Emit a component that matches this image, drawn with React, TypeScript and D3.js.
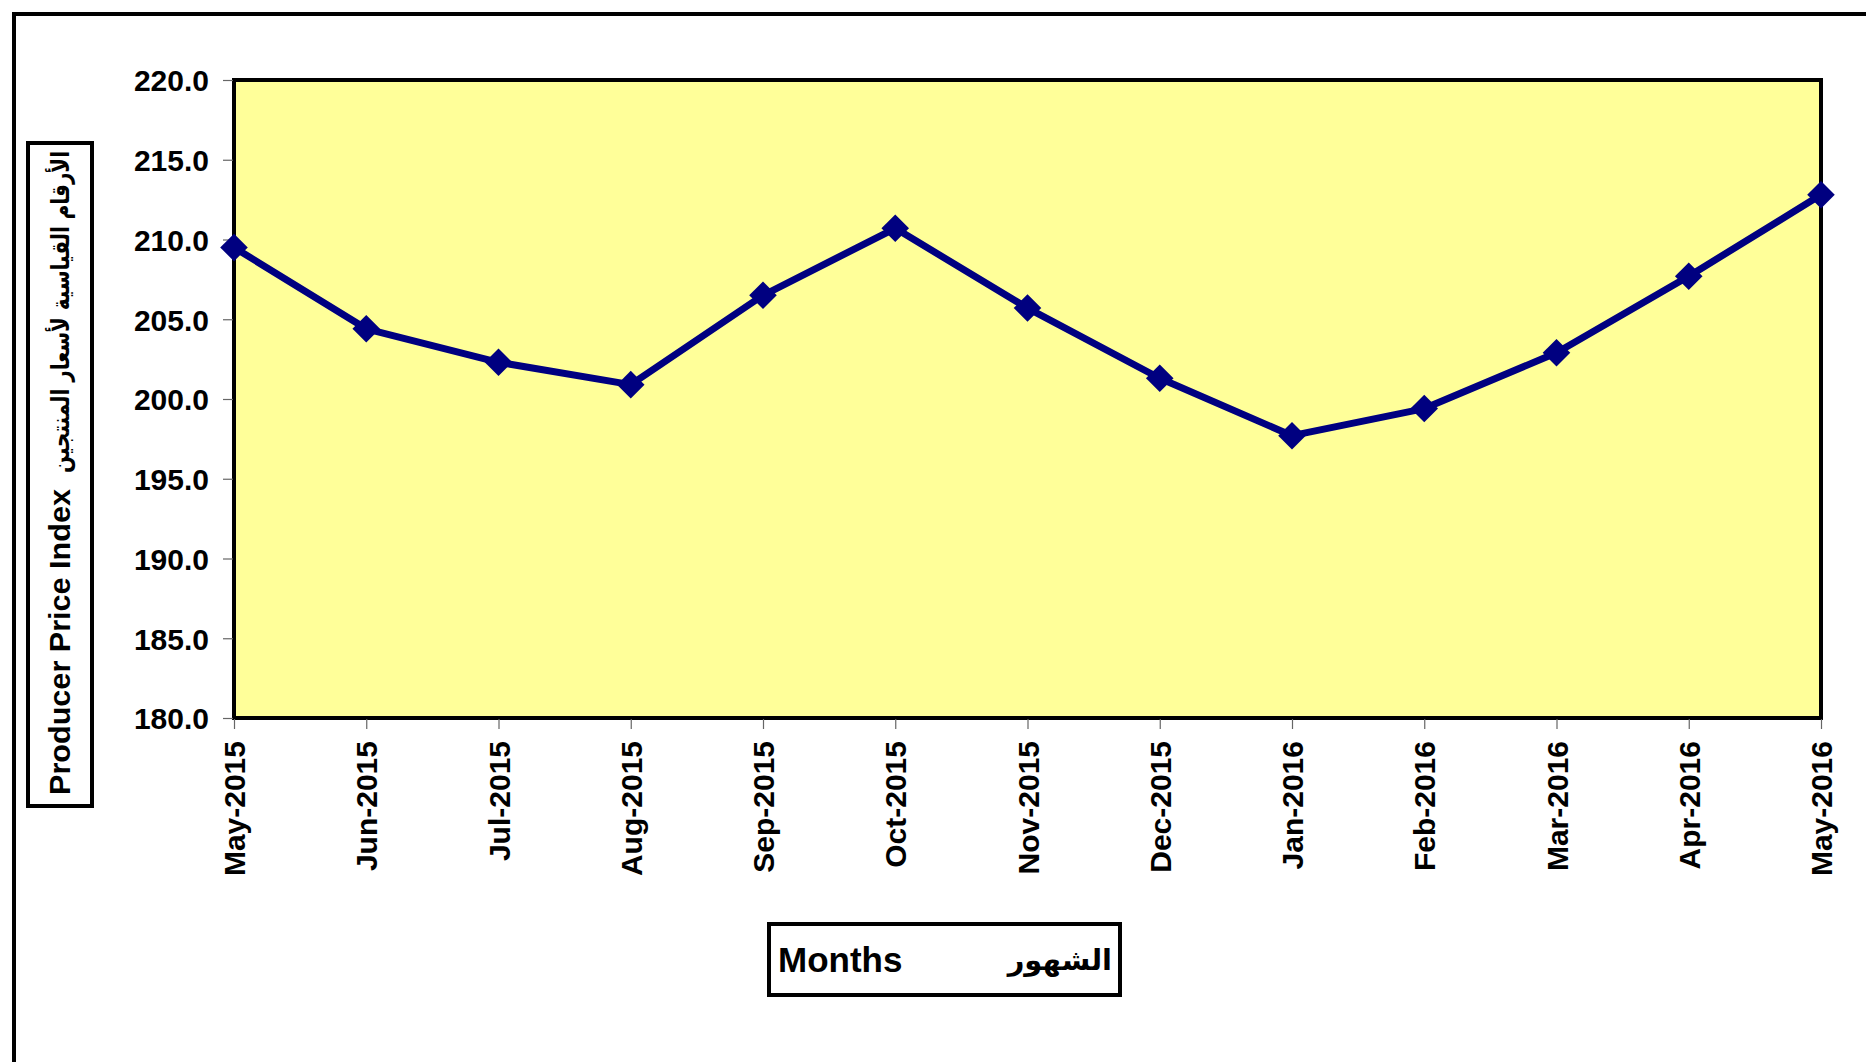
import React, { useEffect, useRef } from 'react'
import * as d3 from 'd3'

// الأشهر والقيم
const months = [
    'May-2015', 'Jun-2015', 'Jul-2015', 'Aug-2015', 'Sep-2015', 'Oct-2015', 'Nov-2015',
    'Dec-2015', 'Jan-2016', 'Feb-2016', 'Mar-2016', 'Apr-2016', 'May-2016'
]
const ppi = [209.5, 204.4, 202.3, 200.9, 206.5, 210.7, 205.7, 201.3, 197.7, 199.4, 202.9, 207.7, 212.8]
const yTicks = [180, 185, 190, 195, 200, 205, 210, 215, 220]

const W = 1866
const H = 1062
const font = '"Liberation Sans", Arial, sans-serif'
const arabicFont = '"DejaVu Sans", "Liberation Sans", sans-serif'

export default function App() {
    const ref = useRef<SVGSVGElement | null>(null)

    useEffect(() => {
        const svg = d3.select(ref.current)
        svg.selectAll('*').remove()

        const left = 234, right = 1821, top = 80, bottom = 718

        const xScale = d3.scalePoint<string>().domain(months).range([left, right])
        const yScale = d3.scaleLinear().domain([180, 220]).range([bottom, top])

        //外框
        svg.append('rect')
            .attr('x', 14).attr('y', 14)
            .attr('width', 2000).attr('height', 2000)
            .attr('fill', 'white')
            .attr('stroke', 'black')
            .attr('stroke-width', 4)

        //绘图区
        svg.append('rect')
            .attr('x', left).attr('y', top)
            .attr('width', right - left).attr('height', bottom - top)
            .attr('fill', '#FFFF99')
            .attr('stroke', 'black')
            .attr('stroke-width', 4)

        //y轴
        const yAxis = d3.axisLeft(yScale)
            .tickValues(yTicks)
            .tickSize(10)
            .tickPadding(14)
            .tickFormat(d => d3.format('.1f')(d as number))
        const gy = svg.append('g')
            .attr('transform', 'translate(' + (left - 1) + ',0)')
            .call(yAxis)
        gy.select('.domain').remove()
        gy.selectAll('line').attr('stroke', '#666').attr('stroke-width', 1.2)
        gy.selectAll('text')
            .attr('font-family', font)
            .attr('font-weight', 'bold')
            .attr('font-size', 30)
            .attr('fill', 'black')
            .attr('dy', '0.36em')

        //x轴
        const xAxis = d3.axisBottom(xScale).tickSize(10).tickFormat(() => '')
        const gx = svg.append('g')
            .attr('transform', 'translate(0,' + (bottom + 1) + ')')
            .call(xAxis)
        gx.select('.domain').remove()
        gx.selectAll('line').attr('stroke', '#666').attr('stroke-width', 1.2)

        svg.append('g').selectAll('text')
            .data(months)
            .enter()
            .append('text')
            .attr('transform', d => 'translate(' + ((xScale(d) as number) + 11) + ',741) rotate(-90)')
            .attr('text-anchor', 'end')
            .attr('font-family', font)
            .attr('font-weight', 'bold')
            .attr('font-size', 30)
            .attr('fill', 'black')
            .text(d => d)

        //折线
        const line = d3.line<number>()
            .x((d, i) => xScale(months[i]) as number)
            .y(d => yScale(d))
        svg.append('path')
            .datum(ppi)
            .attr('d', line)
            .attr('fill', 'none')
            .attr('stroke', '#000080')
            .attr('stroke-width', 7)
            .attr('stroke-linejoin', 'round')

        const marker = d3.symbol().type(d3.symbolSquare).size(380)
        svg.append('g').selectAll('path')
            .data(ppi)
            .enter()
            .append('path')
            .attr('d', marker)
            .attr('transform', (d, i) => 'translate(' + xScale(months[i]) + ',' + yScale(d) + ') rotate(45)')
            .attr('fill', '#000080')

        //y轴标题
        svg.append('rect')
            .attr('x', 28).attr('y', 143)
            .attr('width', 64).attr('height', 663)
            .attr('fill', 'white')
            .attr('stroke', 'black')
            .attr('stroke-width', 4)
        svg.append('text')
            .attr('transform', 'translate(70,795) rotate(-90)')
            .attr('font-family', font)
            .attr('font-weight', 'bold')
            .attr('font-size', 29)
            .attr('textLength', 306)
            .attr('lengthAdjust', 'spacingAndGlyphs')
            .text('Producer Price Index')
        svg.append('text')
            .attr('transform', 'translate(69,151) rotate(-90)')
            .attr('text-anchor', 'end')
            .attr('font-family', arabicFont)
            .attr('font-weight', 'bold')
            .attr('font-size', 25)
            .attr('textLength', 322)
            .attr('lengthAdjust', 'spacingAndGlyphs')
            .text('الأرقام القياسية لأسعار المنتجين')

        //x轴标题
        svg.append('rect')
            .attr('x', 769).attr('y', 924)
            .attr('width', 351).attr('height', 71)
            .attr('fill', 'white')
            .attr('stroke', 'black')
            .attr('stroke-width', 4)
        svg.append('text')
            .attr('x', 778).attr('y', 972)
            .attr('font-family', font)
            .attr('font-weight', 'bold')
            .attr('font-size', 35)
            .text('Months')
        svg.append('text')
            .attr('x', 1112).attr('y', 970)
            .attr('text-anchor', 'end')
            .attr('font-family', arabicFont)
            .attr('font-weight', 'bold')
            .attr('font-size', 29)
            .text('الشهور')
    }, [])

    return (
        <div style={{ position: 'absolute', left: 0, top: 0 }}>
            <svg ref={ref} width={W} height={H} style={{ display: 'block' }} />
        </div>
    )
}
